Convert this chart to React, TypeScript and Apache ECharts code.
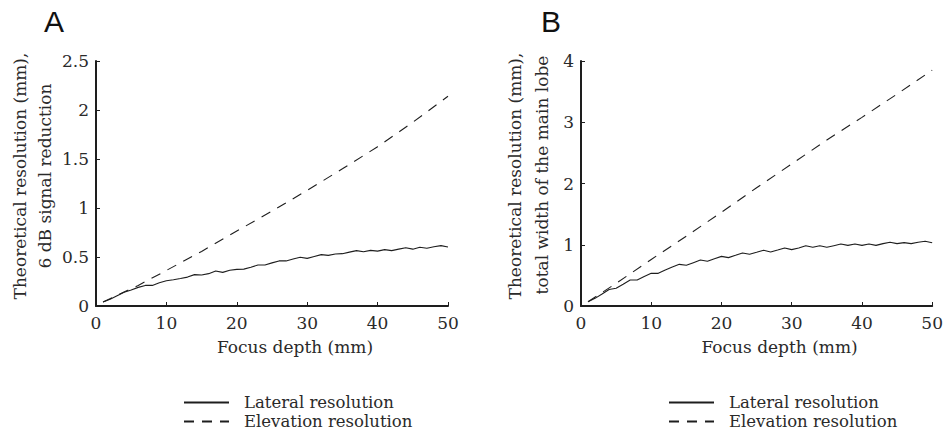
import React, { useEffect, useRef } from "react";
import * as echarts from "echarts";

// Focus depth (mm)
const depths: number[] = Array.from({ length: 50 }, (_, i) => i + 1);

// Panel A: 6 dB signal reduction (mm)
const lateralA: number[] = [
  0.04, 0.07, 0.105, 0.14, 0.163, 0.19, 0.21, 0.21, 0.238, 0.258,
  0.268, 0.28, 0.295, 0.32, 0.316, 0.33, 0.357, 0.343, 0.365, 0.374,
  0.376, 0.395, 0.418, 0.418, 0.44, 0.46, 0.46, 0.48, 0.497, 0.486,
  0.505, 0.524, 0.517, 0.53, 0.534, 0.55, 0.565, 0.554, 0.568, 0.56,
  0.575, 0.565, 0.58, 0.595, 0.58, 0.6, 0.59, 0.605, 0.616, 0.602,
];
const elevDepthsA: number[] = [1, 3, 6, 10, 15, 20, 25, 30, 35, 40, 45, 50];
const elevationA: number[] = [0.04, 0.11, 0.21, 0.363, 0.557, 0.765, 0.968, 1.18, 1.4, 1.625, 1.875, 2.14];

// Panel B: total width of the main lobe (mm)
const lateralB: number[] = [
  0.07, 0.125, 0.196, 0.27, 0.29, 0.354, 0.424, 0.424, 0.48, 0.533,
  0.533, 0.588, 0.637, 0.68, 0.664, 0.707, 0.75, 0.73, 0.773, 0.81,
  0.79, 0.827, 0.865, 0.844, 0.876, 0.909, 0.882, 0.914, 0.947, 0.92,
  0.947, 0.985, 0.958, 0.985, 0.958, 0.985, 1.012, 0.99, 1.012, 0.99,
  1.012, 0.99, 1.018, 1.04, 1.018, 1.034, 1.018, 1.04, 1.056, 1.034,
];
const elevDepthsB: number[] = [1, 5, 10, 15, 20, 25, 30, 35, 40, 45, 50];
const elevationB: number[] = [0.07, 0.37, 0.76, 1.14, 1.53, 1.93, 2.32, 2.71, 3.08, 3.46, 3.85];

const xTicks = { min: 0, max: 50, interval: 10 };
const yTicksA = { min: 0, max: 2.5, interval: 0.5 };
const yTicksB = { min: 0, max: 4, interval: 1 };

const LATERAL = "Lateral resolution";
const ELEVATION = "Elevation resolution";

const SERIF = "DejaVu Serif";
const INK = "#1e1e1e";
const TEXT = "#2a2a2a";

export default function App() {
  const ref = useRef<HTMLDivElement>(null);

  useEffect(() => {
    if (!ref.current) return;
    const chart = echarts.init(ref.current, undefined, { renderer: "svg" });

    const pairs = (xs: number[], ys: number[]) => xs.map((x, i) => [x, ys[i]]);

    const axisCommon = {
      type: "value" as const,
      axisLine: { show: true, lineStyle: { color: INK, width: 2 } },
      axisTick: { show: true, inside: true, length: 4, lineStyle: { color: INK, width: 1 } },
      splitLine: { show: false },
    };

    const xAxis = (gridIndex: number) => ({
      ...axisCommon,
      gridIndex,
      ...xTicks,
      axisLabel: { margin: 8, fontFamily: SERIF, fontSize: 17, color: TEXT },
      name: "Focus depth (mm)",
      nameLocation: "middle",
      nameGap: 32,
      nameTextStyle: { fontFamily: SERIF, fontSize: 17, color: TEXT, padding: [0, 0, 0, 46] },
    });

    const yAxis = (gridIndex: number, ticks: any) => ({
      ...axisCommon,
      gridIndex,
      ...ticks,
      axisLabel: { margin: 7, fontFamily: SERIF, fontSize: 17, color: TEXT },
    });

    const line = (name: string, idx: number, data: number[][], dashed: boolean) => ({
      type: "line",
      name,
      xAxisIndex: idx,
      yAxisIndex: idx,
      data,
      symbol: "none",
      showSymbol: false,
      lineStyle: { color: INK, width: 1.1, type: dashed ? [10, 8] : "solid" },
      itemStyle: { color: INK },
      z: dashed ? 2 : 3,
    });

    const legend = (name: string, left: number, top: number) => ({
      orient: "vertical",
      left,
      top,
      padding: 0,
      itemWidth: 45,
      itemHeight: 14,
      itemGap: 0,
      selectedMode: false,
      data: [name],
      itemStyle: { color: "rgba(0,0,0,0)", borderWidth: 0, opacity: 0 },
      textStyle: {
        fontFamily: SERIF,
        fontSize: 16.5,
        lineHeight: 14,
        color: TEXT,
        padding: [0, 0, 0, 10],
      },
    });

    const rotText = (text: string, x: number, y: number) => ({
      type: "text",
      x,
      y,
      rotation: Math.PI / 2,
      style: {
        text,
        fontFamily: SERIF,
        fontSize: 17,
        fill: TEXT,
        textAlign: "center",
        textVerticalAlign: "middle",
      },
    });

    const letter = (text: string, x: number, y: number) => ({
      type: "text",
      x,
      y,
      style: {
        text,
        fontFamily: "Liberation Sans",
        fontSize: 30,
        fill: "#111",
        textAlign: "center",
        textVerticalAlign: "middle",
      },
    });

    chart.setOption({
      animation: false,
      backgroundColor: "#ffffff",
      grid: [
        { left: 96, top: 61, width: 352, height: 245 },
        { left: 581, top: 61, width: 352, height: 245 },
      ],
      xAxis: [xAxis(0), xAxis(1)],
      yAxis: [yAxis(0, yTicksA), yAxis(1, yTicksB)],
      legend: [
        legend(LATERAL, 183, 394),
        legend(ELEVATION, 183, 413),
        legend(LATERAL, 668, 394),
        legend(ELEVATION, 668, 413),
      ],
      series: [
        line(LATERAL, 0, pairs(depths, lateralA), false),
        line(ELEVATION, 0, pairs(elevDepthsA, elevationA), true),
        line(LATERAL, 1, pairs(depths, lateralB), false),
        line(ELEVATION, 1, pairs(elevDepthsB, elevationB), true),
      ],
      graphic: [
        letter("A", 54, 21),
        letter("B", 551, 21),
        rotText("Theoretical resolution (mm),", 19.5, 176),
        rotText("6 dB signal reduction", 45, 176),
        rotText("Theoretical resolution (mm),", 515, 176),
        rotText("total width of the main lobe", 542, 175),
      ],
    });

    return () => chart.dispose();
  }, []);

  return (
    <div
      ref={ref}
      style={{ position: "absolute", left: 0, top: 0, width: 946, height: 431 }}
    />
  );
}
